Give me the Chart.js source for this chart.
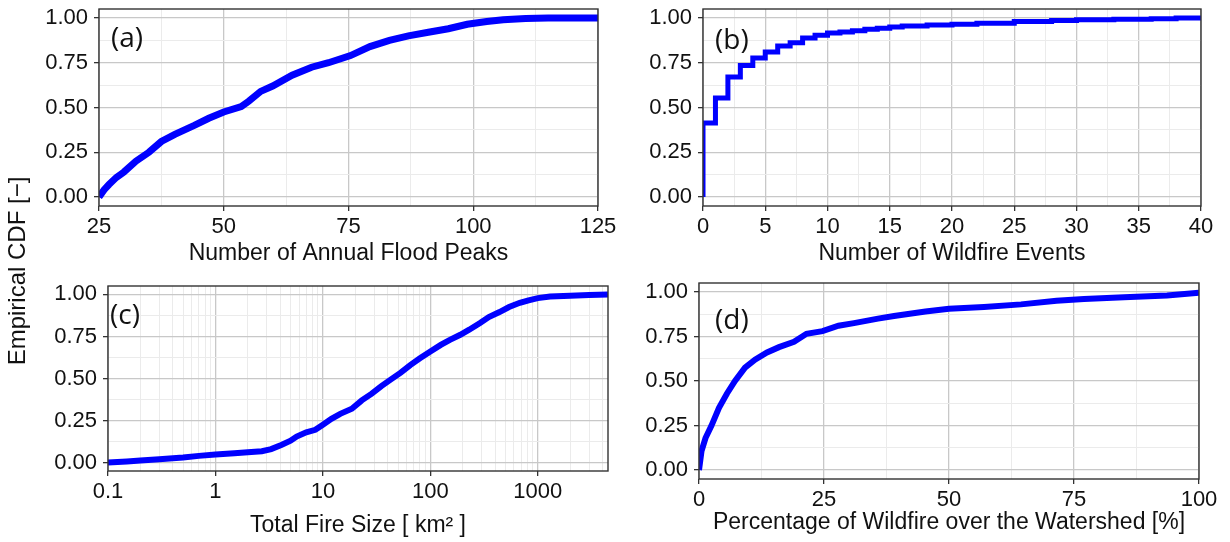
<!DOCTYPE html>
<html>
<head>
<meta charset="utf-8">
<script src="https://cdn.jsdelivr.net/npm/chart.js@4.4.1/dist/chart.umd.min.js"></script>
<style>
  html, body { margin: 0; padding: 0; background: #fff; }
  #wrap { position: relative; width: 1230px; height: 542px; overflow: hidden; }
  #wrap canvas { position: absolute; left: 0; top: 0; }
</style>
</head>
<body>
<div id="wrap">
  <canvas id="pa" width="1230" height="542"></canvas>
  <canvas id="pb" width="1230" height="542"></canvas>
  <canvas id="pc" width="1230" height="542"></canvas>
  <canvas id="pd" width="1230" height="542"></canvas>
</div>
<script>
// (a) annual flood peaks
const floodX = [25, 26, 27, 28.5, 30, 32.4, 35, 37.5, 40.2, 44.1, 47, 50, 53.5, 55, 57.4, 59.8, 63.7, 67.6, 71, 75.4, 79.3, 83.2, 87, 91, 95, 98.8, 102.7, 106, 110.5, 115, 125];
const floodY = [0.0, 0.04, 0.07, 0.11, 0.14, 0.2, 0.25, 0.31, 0.35, 0.4, 0.44, 0.475, 0.505, 0.535, 0.59, 0.62, 0.68, 0.725, 0.75, 0.79, 0.84, 0.875, 0.9, 0.92, 0.94, 0.965, 0.98, 0.99, 0.997, 1.0, 1.0];

// (b) wildfire events (step ECDF)
const eventsX = [0, 0, 1, 2, 3, 4, 5, 6, 7, 8, 9, 10, 11, 12, 13, 14, 15, 16, 18, 20, 22, 25, 28, 30, 33, 36, 38, 40];
const eventsY = [0, 0.413, 0.553, 0.67, 0.735, 0.776, 0.81, 0.843, 0.862, 0.888, 0.903, 0.916, 0.922, 0.928, 0.937, 0.942, 0.95, 0.955, 0.96, 0.965, 0.97, 0.98, 0.986, 0.99, 0.993, 0.996, 1.0, 1.0];

// (c) total fire size, km2
const sizeX = [0.1, 0.15, 0.2, 0.3, 0.5, 0.7, 1, 1.5, 2, 2.7, 3.3, 4.1, 5, 5.7, 7, 8.5, 10, 12, 14.5, 18.6, 23, 28.5, 35, 43, 53, 65, 80, 100, 125, 152, 190, 230, 290, 350, 440, 540, 680, 820, 1000, 1300, 2000, 3000, 4500];
const sizeY = [0.0, 0.006, 0.012, 0.02, 0.03, 0.04, 0.048, 0.056, 0.062, 0.068, 0.08, 0.105, 0.13, 0.155, 0.18, 0.195, 0.225, 0.26, 0.29, 0.32, 0.37, 0.41, 0.455, 0.495, 0.535, 0.58, 0.62, 0.66, 0.7, 0.73, 0.76, 0.79, 0.83, 0.865, 0.895, 0.925, 0.95, 0.965, 0.978, 0.987, 0.992, 0.996, 1.0];

// (d) percentage of watershed burned
const pctX = [0, 0.5, 1.3, 2.5, 4, 5.6, 7.2, 9.2, 11.2, 13.6, 16, 19, 21.5, 24.7, 27.9, 31, 35.8, 39, 45.3, 50, 57, 64.4, 71.5, 77, 85, 93.6, 100];
const pctY = [0, 0.106, 0.18, 0.25, 0.35, 0.43, 0.5, 0.575, 0.62, 0.66, 0.69, 0.72, 0.765, 0.78, 0.81, 0.825, 0.85, 0.865, 0.89, 0.905, 0.915, 0.93, 0.95, 0.96, 0.97, 0.98, 0.995];

// tick labels
const yTicks = [0, 0.25, 0.5, 0.75, 1];
const floodTicks = [25, 50, 75, 100, 125];
const eventsTicks = [0, 5, 10, 15, 20, 25, 30, 35, 40];
const sizeTicks = [0.1, 1, 10, 100, 1000];
const sizeTickLabels = ['0.1', '1', '10', '100', '1000'];
const pctTicks = [0, 25, 50, 75, 100];

const yTitle = 'Empirical CDF [\u2212]';

const MAJOR = '#c8c8c8';
const MINOR = '#ebebeb';
const INK = '#111';
const TICK_FONT = { family: '"Liberation Sans", Arial, sans-serif', size: 22 };
const TITLE_FONT = { family: '"Liberation Sans", Arial, sans-serif', size: 23 };

function midpoints(major) {
  const out = [];
  for (let i = 0; i < major.length - 1; i++) out.push((major[i] + major[i + 1]) / 2);
  return out;
}
function logMinors(major, max) {
  const out = [];
  major.forEach(d => {
    for (let m = 2; m <= 9; m++) if (m * d <= max) out.push(m * d);
  });
  return out;
}
function isIn(list, v) {
  return list.some(m => Math.abs(m - v) < 1e-9 * Math.max(1, Math.abs(m)));
}
function zeroPad(s) {
  s.paddingLeft = 0; s.paddingRight = 0; s.paddingTop = 0; s.paddingBottom = 0;
}

// panel frame, panel tag and the shared y title
const framePlugin = {
  id: 'frame',
  afterDraw(chart, args, opts) {
    const { ctx, chartArea: { left, top, right, bottom } } = chart;
    ctx.save();
    ctx.strokeStyle = '#333';
    ctx.lineWidth = 1.4;
    ctx.strokeRect(left, top, right - left, bottom - top);
    ctx.fillStyle = '#111';
    ctx.font = '28px "Open Sans", sans-serif';
    ctx.textBaseline = 'middle';
    ctx.textAlign = 'left';
    ctx.fillText(opts.tag, opts.tagX, opts.tagY);
    if (opts.yTitle) {
      ctx.translate(18, 271);
      ctx.rotate(-Math.PI / 2);
      ctx.textAlign = 'center';
      ctx.font = '24px "Liberation Sans", Arial, sans-serif';
      ctx.fillStyle = INK;
      ctx.fillText(opts.yTitle, 0, 0);
    }
    ctx.restore();
  }
};

function makePanel(id, p) {
  const yw = 70;
  const lh = TITLE_FONT.size * 1.2;
  const xh = p.titleY - p.B + lh / 2;
  const yAll = yTicks.concat(midpoints(yTicks)).sort((a, b) => a - b);
  const xAll = p.minors.concat(p.majors).sort((a, b) => a - b);

  return new Chart(document.getElementById(id), {
    type: 'line',
    data: {
      datasets: [{
        data: p.xs.map((x, i) => ({ x, y: p.ys[i] })),
        borderColor: '#0000ff',
        borderWidth: p.width,
        pointRadius: 0,
        tension: 0,
        stepped: p.stepped || false,
        clip: 0
      }]
    },
    options: {
      responsive: false,
      animation: false,
      devicePixelRatio: 1,
      layout: {
        padding: { left: p.L - yw, top: p.T, right: 1230 - p.R, bottom: 542 - p.B - xh }
      },
      plugins: {
        legend: { display: false },
        tooltip: { enabled: false },
        frame: { tag: p.tag, tagX: p.tagX, tagY: p.tagY, yTitle: p.yTitle }
      },
      scales: {
        x: {
          type: p.log ? 'logarithmic' : 'linear',
          min: p.min,
          max: p.max,
          afterBuildTicks: s => { s.ticks = xAll.map(v => ({ value: v })); },
          afterFit: s => { s.height = xh; zeroPad(s); },
          border: { display: false },
          grid: {
            color: c => (c.tick && isIn(p.majors, c.tick.value)) ? MAJOR : MINOR,
            lineWidth: c => (c.tick && isIn(p.majors, c.tick.value)) ? 1.3 : 1,
            tickColor: c => (c.tick && isIn(p.majors, c.tick.value)) ? '#333' : 'rgba(0,0,0,0)',
            tickLength: 5,
            drawTicks: true
          },
          ticks: {
            autoSkip: false,
            maxRotation: 0,
            minRotation: 0,
            padding: 3,
            color: INK,
            font: TICK_FONT,
            callback: v => {
              const i = p.majors.findIndex(m => Math.abs(m - v) < 1e-9 * Math.max(1, m));
              return i < 0 ? '' : p.labels[i];
            }
          },
          title: {
            display: true,
            text: p.xTitle,
            color: INK,
            font: TITLE_FONT,
            padding: { top: 0, bottom: 0 }
          }
        },
        y: {
          type: 'linear',
          min: -0.05,
          max: 1.05,
          afterBuildTicks: s => { s.ticks = yAll.map(v => ({ value: v })); },
          afterFit: s => { s.width = yw; zeroPad(s); },
          border: { display: false },
          grid: {
            color: c => (c.tick && isIn(yTicks, c.tick.value)) ? MAJOR : MINOR,
            lineWidth: c => (c.tick && isIn(yTicks, c.tick.value)) ? 1.3 : 1,
            tickColor: c => (c.tick && isIn(yTicks, c.tick.value)) ? '#333' : 'rgba(0,0,0,0)',
            tickLength: 5,
            drawTicks: true
          },
          ticks: {
            autoSkip: false,
            padding: 6,
            color: INK,
            font: TICK_FONT,
            callback: v => isIn(yTicks, v) ? v.toFixed(2) : ''
          }
        }
      }
    },
    plugins: [framePlugin]
  });
}

makePanel('pa', {
  xs: floodX, ys: floodY, width: 7,
  L: 99, R: 598, T: 9, B: 206, titleY: 254,
  min: 25, max: 125, majors: floodTicks, minors: midpoints(floodTicks),
  labels: floodTicks.map(String),
  xTitle: 'Number of Annual Flood Peaks',
  tag: '(a)', tagX: 111, tagY: 39, yTitle: yTitle
});

makePanel('pb', {
  xs: eventsX, ys: eventsY, width: 5, stepped: true,
  L: 703, R: 1201, T: 9, B: 206, titleY: 254,
  min: 0, max: 40, majors: eventsTicks, minors: midpoints(eventsTicks),
  labels: eventsTicks.map(String),
  xTitle: 'Number of Wildfire Events',
  tag: '(b)', tagX: 715, tagY: 41
});

makePanel('pc', {
  xs: sizeX, ys: sizeY, width: 6, log: true,
  L: 108, R: 608, T: 286, B: 471, titleY: 526,
  min: 0.1, max: 4500, majors: sizeTicks, minors: logMinors(sizeTicks, 4500),
  labels: sizeTickLabels,
  xTitle: 'Total Fire Size [ km\u00B2 ]',
  tag: '(c)', tagX: 110, tagY: 316
});

makePanel('pd', {
  xs: pctX, ys: pctY, width: 6,
  L: 699, R: 1199, T: 283, B: 479, titleY: 523,
  min: 0, max: 100, majors: pctTicks, minors: midpoints(pctTicks),
  labels: pctTicks.map(String),
  xTitle: 'Percentage of Wildfire over the Watershed [%]',
  tag: '(d)', tagX: 715, tagY: 321
});
</script>
</body>
</html>
